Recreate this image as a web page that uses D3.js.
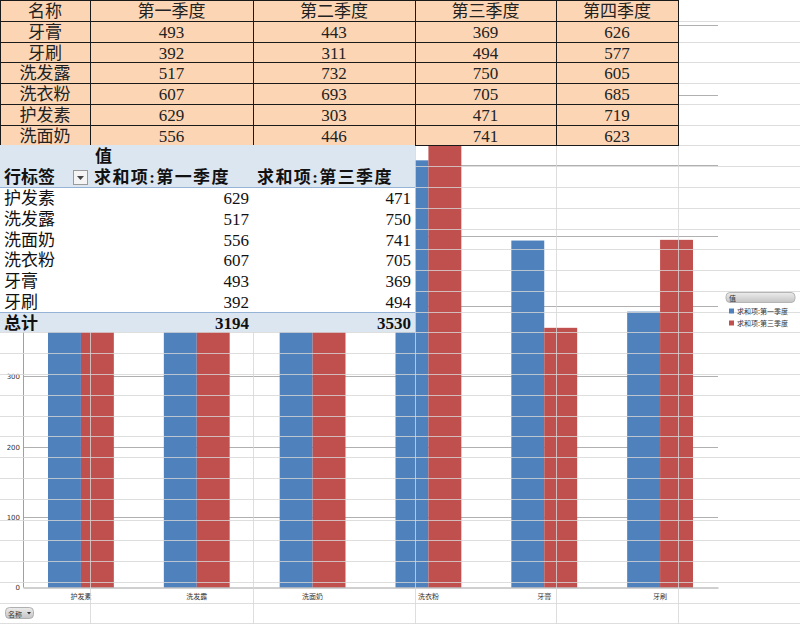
<!DOCTYPE html>
<html><head><meta charset="utf-8">
<script src="https://cdn.jsdelivr.net/npm/d3@7"></script>
<style>body{margin:0;background:#fff;} svg{display:block}</style>
</head><body>
<script>
// ---- data ----
const names = ["牙膏","牙刷","洗发露","洗衣粉","护发素","洗面奶"];
const quarters = ["第一季度","第二季度","第三季度","第四季度"];
const q1 = [493,392,517,607,629,556];
const q2 = [443,311,732,693,303,446];
const q3 = [369,494,750,705,471,741];
const q4 = [626,577,605,685,719,623];
const pivotNames = ["护发素","洗发露","洗面奶","洗衣粉","牙膏","牙刷"];
const seriesLabels = ["求和项:第一季度","求和项:第三季度"];
const yTicks = [0,100,200,300,400,500,600,700,800];
const yTickLabels = [0,100,200,300]; // the rest sit under the pivot table

// ---- layout ----
const W = 800, H = 624, RH = 20.78;
const colX = [0, 90, 253, 415, 556, 678];
const CJK = "'Noto Sans CJK SC','Noto Sans',sans-serif";
const TF = "'Liberation Serif','Noto Sans CJK SC',serif";
const BLUE = "#4f81bd", RED = "#c0504d";

const svg = d3.select("body").append("svg").attr("width", W).attr("height", H);
svg.append("rect").attr("width", W).attr("height", H).attr("fill", "#fff");

const idx = n => names.indexOf(n);
const pivotQ1 = pivotNames.map(n => q1[idx(n)]);
const pivotQ3 = pivotNames.map(n => q3[idx(n)]);
const series = [pivotQ1, pivotQ3];
const colors = [BLUE, RED];

// ---- chart ----
const x0 = d3.scaleBand().domain(pivotNames).range([23, 718]);
const x1 = d3.scaleBand().domain([0, 1]).range([25, x0.bandwidth() - 25]);
const y = d3.scaleLinear().domain([0, 800]).range([587.5, 24.5]);

const chart = svg.append("g");
chart.append("g").selectAll("line").data(yTicks.filter(d => d > 0)).join("line")
  .attr("x1", 23).attr("x2", 718)
  .attr("y1", d => Math.round(y(d)) + 0.5).attr("y2", d => Math.round(y(d)) + 0.5)
  .attr("stroke", "#b0b0b0").attr("stroke-width", 1);

const groups = chart.append("g").selectAll("g").data(pivotNames).join("g")
  .attr("transform", d => `translate(${x0(d)},0)`);
groups.selectAll("rect").data((d, i) => series.map((s, k) => ({k, v: s[i]}))).join("rect")
  .attr("x", d => x1(d.k)).attr("width", x1.bandwidth())
  .attr("y", d => y(d.v)).attr("height", d => y(0) - y(d.v))
  .attr("fill", d => colors[d.k]);

const yAxis = chart.append("g").attr("transform", "translate(23,0)")
  .call(d3.axisLeft(y).tickValues(yTickLabels).tickSize(0).tickPadding(3));
yAxis.select(".domain").remove();
chart.append("line").attr("x1", 23.5).attr("x2", 23.5).attr("y1", y(800)).attr("y2", y(0)).attr("stroke", "#a0a0a0");
yAxis.selectAll("text").attr("font-size", 7).attr("font-family", "'DejaVu Sans',sans-serif").attr("fill", "#333");

const xAxis = chart.append("g").attr("transform", `translate(0,${y(0)})`)
  .call(d3.axisBottom(x0).tickSize(0).tickPadding(7));
xAxis.select(".domain").attr("stroke", "#a0a0a0");
xAxis.selectAll("text").attr("font-size", 7).attr("font-family", CJK).attr("fill", "#333");

// ---- spreadsheet gridlines over chart ----
const grid = svg.append("g").attr("stroke", "#d6d6d6").attr("stroke-opacity", 0.8);
grid.selectAll("line.r").data(d3.range(1, 31)).join("line").attr("class", "r")
  .attr("x1", 0).attr("x2", W)
  .attr("y1", d => Math.round(d * RH) + 0.5).attr("y2", d => Math.round(d * RH) + 0.5);
grid.selectAll("line.c").data(colX.slice(1)).join("line").attr("class", "c")
  .attr("x1", d => d + 0.5).attr("x2", d => d + 0.5).attr("y1", 0).attr("y2", H);

// ---- top data table ----
const tbl = svg.append("g");
const tableRows = [["名称", ...quarters]].concat(names.map((n, i) => [n, q1[i], q2[i], q3[i], q4[i]]));
tableRows.forEach((row, r) => {
  row.forEach((val, c) => {
    const xa = colX[c], xb = colX[c + 1];
    const ya = Math.round(r * RH), yb = Math.round((r + 1) * RH);
    tbl.append("rect").attr("x", xa + 0.5).attr("y", ya + 0.5)
      .attr("width", xb - xa).attr("height", yb - ya)
      .attr("fill", "#fcd5b4").attr("stroke", "#1a1a1a").attr("stroke-width", 1);
    tbl.append("text").attr("x", (xa + xb) / 2).attr("y", (ya + yb) / 2 + 1)
      .attr("text-anchor", "middle").attr("dominant-baseline", "central")
      .attr("font-family", TF).attr("font-size", 17).attr("fill", "#222").text(val);
  });
});

// ---- pivot table ----
const pv = svg.append("g");
const py = r => Math.round((7 + r) * RH);
const PW = 415;
pv.append("rect").attr("x", 0).attr("y", py(0)).attr("width", PW).attr("height", py(2) - py(0)).attr("fill", "#dce6f1");
pv.append("rect").attr("x", 0).attr("y", py(2)).attr("width", PW).attr("height", py(8) - py(2)).attr("fill", "#fff");
pv.append("rect").attr("x", 0).attr("y", py(8)).attr("width", PW).attr("height", py(9) - py(8)).attr("fill", "#dce6f1");
pv.append("line").attr("x1", 0).attr("x2", PW).attr("y1", py(2) + 0.5).attr("y2", py(2) + 0.5).attr("stroke", "#95b3d7");
pv.append("line").attr("x1", 0).attr("x2", PW).attr("y1", py(8) + 0.5).attr("y2", py(8) + 0.5).attr("stroke", "#95b3d7");

const midY = r => (py(r) + py(r + 1)) / 2 + 1;
const ptext = (x, r, t, anchor, bold, ls) => pv.append("text").attr("x", x).attr("y", midY(r))
  .attr("text-anchor", anchor).attr("dominant-baseline", "central")
  .attr("font-family", TF).attr("font-size", 17).attr("font-weight", bold ? "bold" : "normal")
  .attr("letter-spacing", ls || 0)
  .attr("fill", "#111").text(t);
ptext(95, 0, "值", "start", true);
ptext(4, 1, "行标签", "start", true);
ptext(94, 1, seriesLabels[0], "start", true, 1.4);
ptext(257, 1, seriesLabels[1], "start", true, 1.4);
// dropdown button
pv.append("rect").attr("x", 73.5).attr("y", py(1) + 4.5).attr("width", 14).attr("height", 14)
  .attr("fill", "#f4f4f4").attr("stroke", "#9a9a9a");
pv.append("path").attr("d", `M77,${py(1) + 10} l7,0 l-3.5,4 z`).attr("fill", "#444");
pivotNames.forEach((n, i) => {
  ptext(4, 2 + i, n, "start", false);
  ptext(249, 2 + i, pivotQ1[i], "end", false);
  ptext(411, 2 + i, pivotQ3[i], "end", false);
});
ptext(4, 8, "总计", "start", true);
ptext(249, 8, d3.sum(pivotQ1), "end", true);
ptext(411, 8, d3.sum(pivotQ3), "end", true);

// ---- legend ----
const lg = svg.append("g");
const grad = svg.append("defs").append("linearGradient").attr("id", "gb").attr("x1", 0).attr("y1", 0).attr("x2", 0).attr("y2", 1);
grad.append("stop").attr("offset", "0%").attr("stop-color", "#ececec");
grad.append("stop").attr("offset", "100%").attr("stop-color", "#c4c4c4");
lg.append("rect").attr("x", 726).attr("y", 292.5).attr("width", 69).attr("height", 10).attr("rx", 4)
  .attr("fill", "url(#gb)").attr("stroke", "#b5b5b5");
lg.append("text").attr("x", 729).attr("y", 298).attr("dominant-baseline", "central")
  .attr("font-family", CJK).attr("font-size", 7).attr("fill", "#333").text("值");
seriesLabels.forEach((s, i) => {
  lg.append("rect").attr("x", 729).attr("y", 308.5 + i * 12).attr("width", 5).attr("height", 5).attr("fill", colors[i]);
  lg.append("text").attr("x", 737).attr("y", 311 + i * 12).attr("dominant-baseline", "central")
    .attr("font-family", CJK).attr("font-size", 7).attr("fill", "#333").text(s);
});

// ---- field button ----
const fb = svg.append("g");
fb.append("rect").attr("x", 5.5).attr("y", 607.5).attr("width", 28).attr("height", 11).attr("rx", 4)
  .attr("fill", "url(#gb)").attr("stroke", "#b0b0b0");
fb.append("text").attr("x", 8).attr("y", 613.5).attr("dominant-baseline", "central")
  .attr("font-family", CJK).attr("font-size", 7).attr("fill", "#333").text("名称");
fb.append("path").attr("d", "M27,612 l4,0 l-2,2.5 z").attr("fill", "#333");
</script>
</body></html>
